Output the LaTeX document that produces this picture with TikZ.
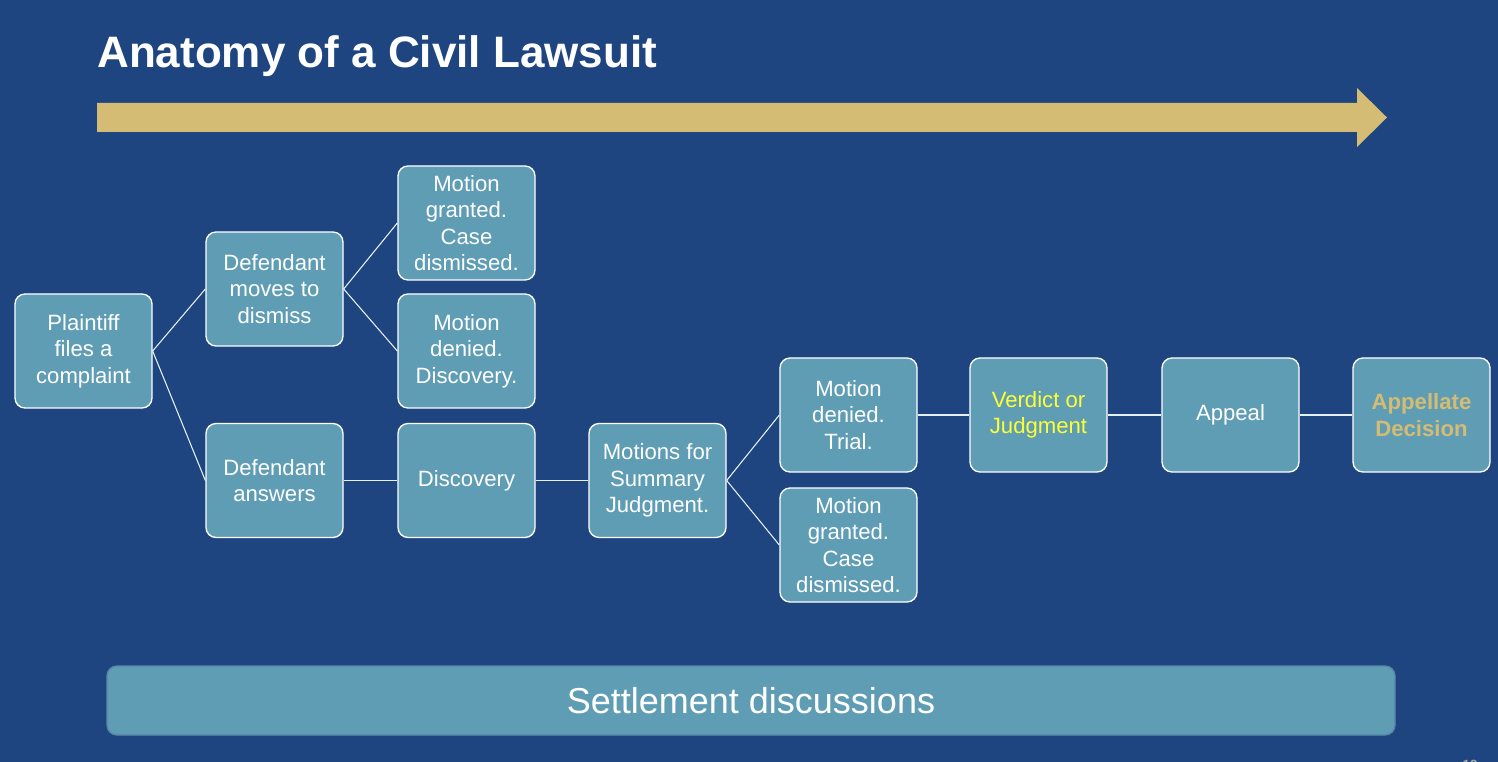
\documentclass[tikz,border=0pt]{standalone}
\usepackage{fontspec}
\setmainfont{Liberation Sans}
\usetikzlibrary{positioning}
\definecolor{bg}{HTML}{1E4580}
\definecolor{boxfill}{HTML}{5F9DB5}
\definecolor{gold}{HTML}{D4BC74}
\definecolor{yel}{HTML}{FFFF33}
\definecolor{barline}{HTML}{5A86A8}
\tikzset{
  stepbox/.style={draw=white, line width=1pt, fill=boxfill, rounded corners=7.5pt,
    minimum width=102.75pt, minimum height=85.5pt, inner sep=2pt,
    align=center, text=white, font=\fontsize{16.6}{19.9}\selectfont},
  link/.style={draw=white!85!boxfill, line width=0.8pt}
}
\begin{document}
\begin{tikzpicture}[x=0.75pt,y=-0.75pt]
\fill[bg] (0,0) rectangle (1498,762);
\useasboundingbox (0,0) rectangle (1498,762);
% title
\node[anchor=base west, inner sep=0, text=white, font=\fontsize{33}{36}\bfseries\selectfont] (title) at (97,68) {Anatomy of a Civil Lawsuit};
% timeline arrow
\fill[gold] (97,103) -- (1357,103) -- (1357,88) -- (1387,117.5) -- (1357,147) -- (1357,132) -- (97,132) -- cycle;
% boxes
\node[stepbox] (plaintiff) at (83.5,351) {Plaintiff\\files a\\complaint};
\node[stepbox] (moves) at (274.5,289) {Defendant\\moves to\\dismiss};
\node[stepbox] (answers) at (274.5,480.5) {Defendant\\answers};
\node[stepbox] (granted1) at (466.5,223) {Motion\\granted.\\Case\\dismissed.};
\node[stepbox] (denied1) at (466.5,351) {Motion\\denied.\\Discovery.};
\node[stepbox] (discovery) at (466.5,480.5) {Discovery};
\node[stepbox] (msj) at (657.5,480.5) {Motions for\\Summary\\Judgment.};
\node[stepbox] (trial) at (848.5,415) {Motion\\denied.\\Trial.};
\node[stepbox] (granted2) at (848.5,545) {Motion\\granted.\\Case\\dismissed.};
\node[stepbox, text=yel] (verdict) at (1038.5,415) {Verdict or\\Judgment};
\node[stepbox] (appeal) at (1230.5,415) {Appeal};
\node[stepbox, text=gold, font=\fontsize{16.6}{19.9}\bfseries\selectfont] (appellate) at (1421.5,415) {Appellate\\Decision};
% connectors
\draw[link] (plaintiff.east) -- (moves.west);
\draw[link] (plaintiff.east) -- (answers.west);
\draw[link] (moves.east) -- (granted1.west);
\draw[link] (moves.east) -- (denied1.west);
\draw[link] (answers.east) -- (discovery.west);
\draw[link] (discovery.east) -- (msj.west);
\draw[link] (msj.east) -- (trial.west);
\draw[link] (msj.east) -- (granted2.west);
\draw[link] (trial.east) -- (verdict.west);
\draw[link] (verdict.east) -- (appeal.west);
\draw[link] (appeal.east) -- (appellate.west);
% settlement bar
\node[draw=barline, line width=1pt, fill=boxfill, rounded corners=7.5pt, minimum width=966pt, minimum height=51.75pt, text=white, font=\fontsize{27}{30}\selectfont] (settle) at (751,700.5) {Settlement discussions};
% page number (cut off)
\node[anchor=base, inner sep=0, text=gray!70!white, font=\fontsize{10}{12}\bfseries\selectfont] (pagenum) at (1470,769) {12};
\end{tikzpicture}
\end{document}
